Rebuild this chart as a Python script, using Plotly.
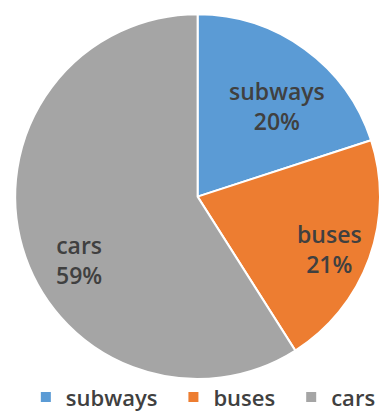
import math
import plotly.graph_objects as go

labels = ["subways", "buses", "cars"]
values = [20, 21, 59]
colors = ["#5B9BD5", "#ED7D31", "#A5A5A5"]

W, H = 380, 414
dom_x = [0.04, 1.0]
dom_y = [0.082, 0.968]
FONT = dict(family="Open Sans", size=23, color="#404040", weight=600)
LEGEND_FONT = dict(family="Open Sans", size=22, color="#404040", weight=600)

# legend names: a little trailing space between entries (not after the last)
legend_names = [l + "\u2002" for l in labels[:-1]] + [labels[-1]]

fig = go.Figure(go.Pie(
    labels=legend_names,
    values=values,
    sort=False,
    direction="clockwise",
    rotation=0,
    marker=dict(colors=colors, line=dict(color="white", width=2)),
    textinfo="none",
    domain=dict(x=dom_x, y=dom_y),
    hoverinfo="skip",
))

# data labels placed along each slice's angle (Excel "best fit" style)
cx = (dom_x[0] + dom_x[1]) / 2 * W
cy = (1 - (dom_y[0] + dom_y[1]) / 2) * H
R = min((dom_x[1] - dom_x[0]) * W, (dom_y[1] - dom_y[0]) * H) / 2
rad_frac = [0.66, 0.78, 0.74]
ang_shift = [5, 2, -12]
total = sum(values)
cum = 0
for lab, v, rf, sh in zip(labels, values, rad_frac, ang_shift):
    mid = (cum + v / 2) / total * 360 + sh
    cum += v
    a = math.radians(mid)
    px = cx + rf * R * math.sin(a)
    py = cy - rf * R * math.cos(a)
    fig.add_annotation(
        x=px / W, y=1 - py / H, xref="paper", yref="paper",
        xanchor="center", yanchor="middle",
        text=f"{lab}<br>{round(v / total * 100)}%",
        showarrow=False, font=FONT, align="center",
    )

fig.update_layout(
    width=W, height=H,
    margin=dict(l=0, r=0, t=0, b=0, autoexpand=False),
    paper_bgcolor="white",
    showlegend=True,
    legend=dict(
        orientation="h", x=0.068, xanchor="left", y=-0.01, yanchor="bottom",
        font=LEGEND_FONT, bgcolor="rgba(0,0,0,0)",
    ),
)

fig.write_html("out.html")
